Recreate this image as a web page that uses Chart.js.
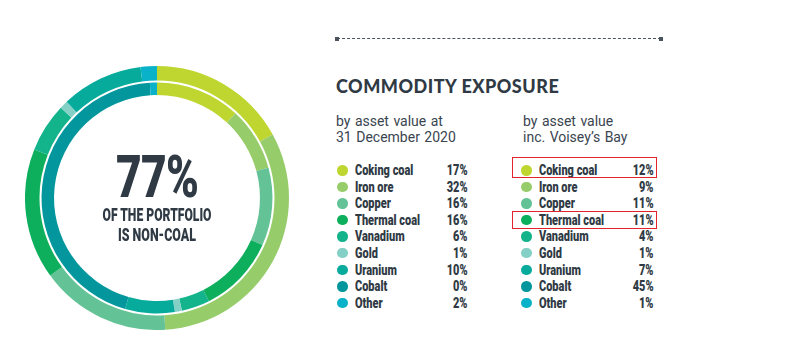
<!DOCTYPE html>
<html>
<head>
<meta charset="utf-8">
<script src="https://cdn.jsdelivr.net/npm/chart.js@4.4.0/dist/chart.umd.min.js"></script>
<style>
  html, body { margin: 0; padding: 0; background: #fff; }
  #page { position: relative; width: 787px; height: 354px; overflow: hidden; color: #2f3a44; }
  #ring { position: absolute; left: 25px; top: 66px; width: 264px; height: 264px; }
  .center { position: absolute; left: 157px; font-family: Roboto, sans-serif; white-space: nowrap; transform-origin: 0 0; }
  #big { top: 146.5px; font-size: 60px; line-height: 60px; font-weight: 900; letter-spacing: -1px; }
  .small { font-size: 17.5px; line-height: 17.5px; font-weight: 900; }
  #dash { position: absolute; left: 337px; top: 38px; width: 324px; height: 0; border-top: 1.5px dashed #4a535b; }
  .cap { position: absolute; top: 36.5px; width: 4px; height: 4px; background: #4a535b; }
  #title { position: absolute; left: 336px; top: 76px; font-family: Lato, sans-serif; font-weight: 900; font-size: 18px; line-height: 20px; letter-spacing: 0.5px; }
  .sub { position: absolute; top: 113px; font-family: Roboto, sans-serif; font-size: 14px; line-height: 16px; color: #3a4550; word-spacing: 1px; }
  .legend { position: absolute; top: 162px; }
  .row { position: relative; height: 16.6px; }
  .dot { position: absolute; top: 3px; width: 10.5px; height: 10.5px; border-radius: 50%; }
  .lab, .val { position: absolute; top: 0; font-family: Roboto, sans-serif; font-weight: 900; font-size: 14px; line-height: 16px; white-space: nowrap; }
  .lab { transform-origin: 0 50%; }
  .val { transform-origin: 100% 50%; }
  .box { position: absolute; border: 1.6px solid #e3232b; box-sizing: border-box; }
</style>
</head>
<body>
<div id="page">
  <div id="ring"><canvas id="canvas"></canvas></div>
  <div class="center" id="big" data-w="82">77%</div>
  <div class="center small" style="top:206.5px" data-w="109">OF THE PORTFOLIO</div>
  <div class="center small" style="top:226.5px" data-w="78">IS NON-COAL</div>

  <div id="dash"></div>
  <div class="cap" style="left:335px"></div>
  <div class="cap" style="left:659px"></div>

  <div id="title">COMMODITY EXPOSURE</div>
  <div class="sub" style="left:336px">by asset value at<br>31 December 2020</div>
  <div class="sub" style="left:523px">by asset value<br>inc. Voisey’s Bay</div>

  <div class="legend" id="legend1" style="left:337px"></div>
  <div class="legend" id="legend2" style="left:521px"></div>
</div>

<script>
// data
const commodities = ["Coking coal", "Iron ore", "Copper", "Thermal coal", "Vanadium", "Gold", "Uranium", "Cobalt", "Other"];
const exposure2020 = [17, 32, 16, 16, 6, 1, 10, 0, 2];
const exposureVoisey = [12, 9, 11, 11, 4, 1, 7, 45, 1];
const colours = ["#bed62f", "#97cc6b", "#63c396", "#0daf5c", "#13b38c", "#84d0c7", "#06ab9c", "#03979d", "#0ab2c9"];
const highlighted = ["Coking coal", "Thermal coal"];

// squeeze the centre text to the condensed look
document.querySelectorAll(".center").forEach(el => {
  const s = el.dataset.w / el.offsetWidth;
  el.style.transform = "translateX(" + (-el.dataset.w / 2) + "px) scaleX(" + s + ")";
});

// legend tables
let labelScale = null;
function buildLegend(id, values, width) {
  const el = document.getElementById(id);
  el.style.width = width + "px";
  commodities.forEach((name, i) => {
    const row = document.createElement("div");
    row.className = "row";
    row.innerHTML =
      '<div class="dot" style="left:0;background:' + colours[i] + '"></div>' +
      '<div class="lab" style="left:18px">' + name + '</div>' +
      '<div class="val" style="right:0">' + values[i] + '%</div>';
    el.appendChild(row);
    const lab = row.querySelector(".lab");
    if (labelScale === null) labelScale = 58 / lab.offsetWidth; // "Coking coal" is ~58px wide
    lab.style.transform = "scaleX(" + labelScale + ")";
    row.querySelector(".val").style.transform = "scaleX(" + labelScale + ")";
    if (id === "legend2" && highlighted.includes(name)) {
      const box = document.createElement("div");
      box.className = "box";
      box.style.left = "-9px";
      box.style.width = (width + 12) + "px";
      if (i === 0) { box.style.top = "-5px"; box.style.height = "21px"; }
      else { box.style.top = "-1px"; box.style.height = "18px"; }
      row.appendChild(box);
    }
  });
}
buildLegend("legend1", exposure2020, 131);
buildLegend("legend2", exposureVoisey, 133);

// Set up canvas
const ctx = document.getElementById("canvas").getContext("2d");

var chart = new Chart(ctx, {
  type: "doughnut",
  data: {
    labels: commodities,
    datasets: [
      {
        label: "31 December 2020",
        data: exposure2020,
        backgroundColor: colours,
        borderWidth: 0,
        weight: 14.5
      },
      {
        // white gap between the two rings
        label: "gap",
        data: [1],
        backgroundColor: "rgba(255,255,255,0)",
        borderWidth: 0,
        weight: 2
      },
      {
        label: "inc. Voisey's Bay",
        data: exposureVoisey,
        backgroundColor: colours,
        borderWidth: 0,
        weight: 12.5
      }
    ]
  },
  options: {
    responsive: true,
    maintainAspectRatio: false,
    animation: false,
    events: [],
    cutout: "78%",
    layout: { padding: 0 },
    plugins: {
      legend: { display: false },
      tooltip: { enabled: false }
    }
  }
});
</script>
</body>
</html>
